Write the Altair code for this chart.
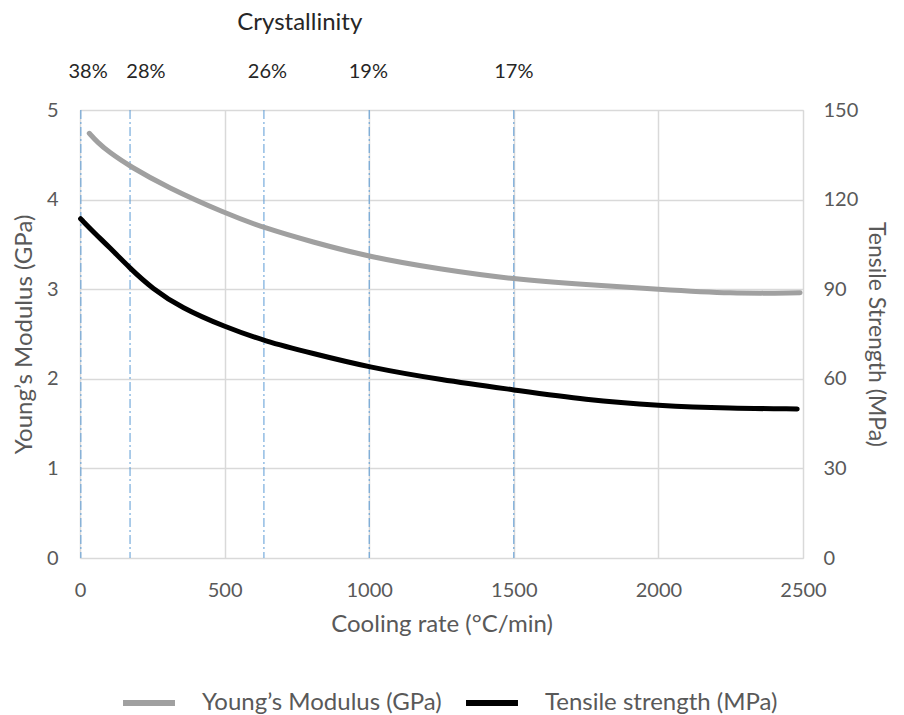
import altair as alt
import pandas as pd

# Young's modulus series (GPa) vs cooling rate
rate_gpa = [32, 60, 100, 173, 300, 500, 640, 800, 1000, 1250, 1500, 1750, 2000, 2250, 2490]
gpa = [4.74, 4.64, 4.53, 4.37, 4.14, 3.85, 3.68, 3.53, 3.36, 3.22, 3.11, 3.05, 3.00, 2.95, 2.96]

# Tensile strength series (MPa) vs cooling rate
rate_mpa = [2, 50, 100, 173, 250, 350, 500, 640, 800, 1000, 1250, 1500, 1750, 2000, 2250, 2480]
mpa = [113.6, 108.8, 104.2, 97.0, 90.2, 83.8, 77.4, 72.6, 68.6, 63.8, 59.6, 56.3, 52.9, 51.0, 50.1, 49.9]

# Crystallinity markers
cryst_rate = [3, 173, 636, 1000, 1500]
cryst_label = ["38%", "28%", "26%", "19%", "17%"]
cryst_label_x = [28, 228, 648, 997, 1500]

series_names = ["Young\u2019s Modulus (GPa)", "Tensile strength (MPa)"]
series_colors = ["#a0a0a0", "#000000"]

FONT = "Lato"
GREY_TXT = "#595959"
TICK_SIZE = 20
TITLE_SIZE = 24

df_gpa = pd.DataFrame({"rate": rate_gpa, "value": gpa, "series": series_names[0]})
df_mpa = pd.DataFrame({"rate": rate_mpa, "value": mpa, "series": series_names[1]})
df_lines = pd.DataFrame({"rate": cryst_rate})
df_labels = pd.DataFrame({"rate": cryst_label_x, "label": cryst_label})
df_title = pd.DataFrame({"rate": [760], "label": ["Crystallinity"]})

x_enc = alt.X(
    "rate:Q",
    scale=alt.Scale(domain=[0, 2500], nice=False),
    axis=alt.Axis(
        values=[0, 500, 1000, 1500, 2000, 2500],
        format="d",
        title="Cooling rate (\u00b0C/min)",
        grid=True,
        gridColor="#d9d9d9",
        gridWidth=1.5,
        domain=False,
        ticks=False,
        labelFlush=False,
        labelPadding=22,
        labelFontSize=TICK_SIZE,
        labelFont=FONT,
        labelColor=GREY_TXT,
        titleFont=FONT,
        titleFontSize=TITLE_SIZE,
        titleFontWeight="normal",
        titleColor=GREY_TXT,
        titlePadding=12,
    ),
)

color_enc = alt.Color(
    "series:N",
    scale=alt.Scale(domain=series_names, range=series_colors),
    legend=alt.Legend(
        orient="none",
        legendX=40,
        legendY=564,
        direction="horizontal",
        title=None,
        symbolType="stroke",
        symbolSize=2700,
        symbolStrokeWidth=6,
        labelFont=FONT,
        labelFontSize=TITLE_SIZE,
        labelColor=GREY_TXT,
        labelLimit=400,
        labelOffset=24,
        columnPadding=12,
    ),
)

gpa_line = alt.Chart(df_gpa).mark_line(strokeWidth=5, interpolate="basis", strokeCap="round").encode(
    x=x_enc,
    y=alt.Y(
        "value:Q",
        scale=alt.Scale(domain=[0, 5], nice=False),
        axis=alt.Axis(
            orient="left",
            values=[0, 1, 2, 3, 4, 5],
            title="Young\u2019s Modulus (GPa)",
            grid=True,
            gridColor="#d9d9d9",
            gridWidth=1.5,
            domain=False,
            ticks=False,
            labelPadding=22,
            labelFontSize=TICK_SIZE,
            labelFont=FONT,
            labelColor=GREY_TXT,
            titleFont=FONT,
            titleFontSize=TITLE_SIZE,
            titleFontWeight="normal",
            titleColor=GREY_TXT,
            titlePadding=10,
        ),
    ),
    color=color_enc,
)

mpa_line = alt.Chart(df_mpa).mark_line(strokeWidth=5, interpolate="basis", strokeCap="round").encode(
    x=x_enc,
    y=alt.Y(
        "value:Q",
        scale=alt.Scale(domain=[0, 150], nice=False),
        axis=alt.Axis(
            orient="right",
            values=[0, 30, 60, 90, 120, 150],
            title="Tensile Strength (MPa)",
            grid=False,
            domain=False,
            ticks=False,
            labelPadding=20,
            labelFontSize=TICK_SIZE,
            labelFont=FONT,
            labelColor=GREY_TXT,
            titleFont=FONT,
            titleFontSize=23,
            titleFontWeight="normal",
            titleColor=GREY_TXT,
            titlePadding=6,
        ),
    ),
    color=color_enc,
)

rules = alt.Chart(df_lines).mark_rule(color="#5b9bd5", strokeWidth=1, strokeDash=[9, 3, 2, 3]).encode(
    x=x_enc
)

labels = alt.Chart(df_labels).mark_text(font=FONT, fontSize=TICK_SIZE, color="#262626", baseline="middle").encode(
    x=x_enc, y=alt.value(-38), text="label:N"
)

title_txt = alt.Chart(df_title).mark_text(font=FONT, fontSize=TITLE_SIZE, color="#262626", baseline="top").encode(
    x=x_enc, y=alt.value(-99), text="label:N"
)

chart = (
    alt.layer(rules, gpa_line, mpa_line, labels, title_txt)
    .resolve_scale(y="independent")
    .properties(
        width=723,
        height=448,
        autosize=alt.AutoSizeParams(type="none"),
        padding={"left": 72, "top": 102, "right": 92, "bottom": 157},
    )
    .configure_view(stroke=None)
    .configure(background="white")
)

chart.save("out.html", embed_options={"renderer": "svg", "actions": False})
